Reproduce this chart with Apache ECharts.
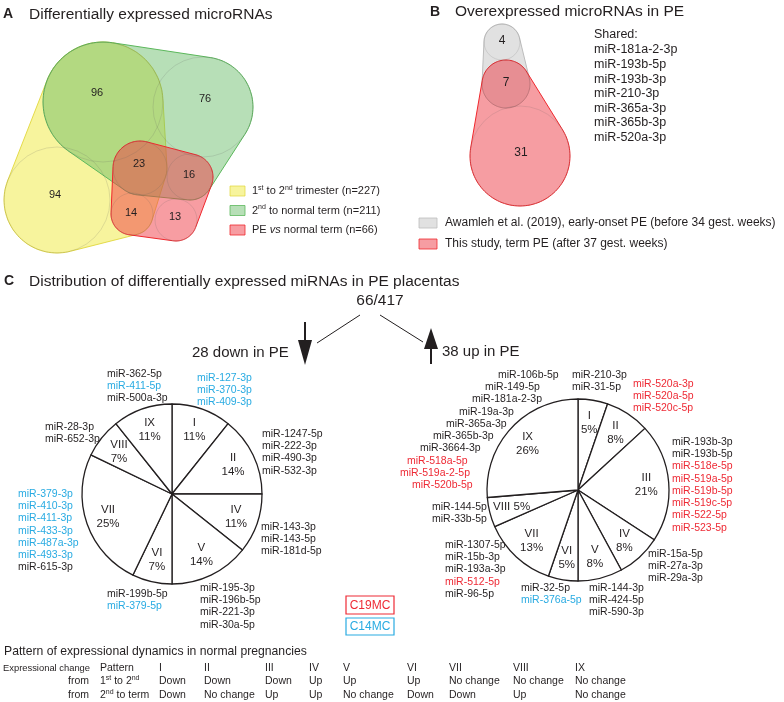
<!DOCTYPE html>
<html><head><meta charset="utf-8">
<script src="https://cdn.jsdelivr.net/npm/echarts@6/dist/echarts.min.js"></script>
<style>html,body{margin:0;padding:0;background:#fff}#c{width:784px;height:702px}</style>
</head><body><div id="c"></div>
<script>
// ---------------- DATA ----------------
// Panel A: Venn of differentially expressed microRNAs
const vennASetNames = ['1st to 2nd trimester', '2nd to normal term', 'PE vs normal term'];
const vennASetSizes = [227, 211, 66];
const vennARegionCounts = [94, 96, 76, 23, 16, 14, 13];
const vennARegionSets = [[0], [0, 1], [1], [0, 1, 2], [1, 2], [0, 2], [2]];
// Panel B: overexpressed microRNAs in PE
const vennBSetNames = ['Awamleh et al. (2019), early-onset PE (before 34 gest. weeks)', 'This study, term PE (after 37 gest. weeks)'];
const vennBRegionCounts = [4, 7, 31];
const vennBRegionSets = [[0], [0, 1], [1]];
const sharedMirnas = ['miR-181a-2-3p', 'miR-193b-5p', 'miR-193b-3p', 'miR-210-3p', 'miR-365a-3p', 'miR-365b-3p', 'miR-520a-3p'];
// Panel C: pies
const totalDE = 66, totalAll = 417;
const downSlices = ['I', 'II', 'IV', 'V', 'VI', 'VII', 'VIII', 'IX'];
const downCounts = [3, 4, 3, 4, 2, 7, 2, 3];
const upSlices = ['I', 'II', 'III', 'IV', 'V', 'VI', 'VII', 'VIII', 'IX'];
const upCounts = [2, 3, 8, 3, 3, 2, 5, 2, 10];
const downMirnas = {
  I: ['miR-127-3p', 'miR-370-3p', 'miR-409-3p'],
  II: ['miR-1247-5p', 'miR-222-3p', 'miR-490-3p', 'miR-532-3p'],
  IV: ['miR-143-3p', 'miR-143-5p', 'miR-181d-5p'],
  V: ['miR-195-3p', 'miR-196b-5p', 'miR-221-3p', 'miR-30a-5p'],
  VI: ['miR-199b-5p', 'miR-379-5p'],
  VII: ['miR-379-3p', 'miR-410-3p', 'miR-411-3p', 'miR-433-3p', 'miR-487a-3p', 'miR-493-3p', 'miR-615-3p'],
  VIII: ['miR-28-3p', 'miR-652-3p'],
  IX: ['miR-362-5p', 'miR-411-5p', 'miR-500a-3p']
};
const upMirnas = {
  I: ['miR-210-3p', 'miR-31-5p'],
  II: ['miR-520a-3p', 'miR-520a-5p', 'miR-520c-5p'],
  III: ['miR-193b-3p', 'miR-193b-5p', 'miR-518e-5p', 'miR-519a-5p', 'miR-519b-5p', 'miR-519c-5p', 'miR-522-5p', 'miR-523-5p'],
  IV: ['miR-15a-5p', 'miR-27a-3p', 'miR-29a-3p'],
  V: ['miR-144-3p', 'miR-424-5p', 'miR-590-3p'],
  VI: ['miR-32-5p', 'miR-376a-5p'],
  VII: ['miR-1307-5p', 'miR-15b-3p', 'miR-193a-3p', 'miR-512-5p', 'miR-96-5p'],
  VIII: ['miR-144-5p', 'miR-33b-5p'],
  IX: ['miR-106b-5p', 'miR-149-5p', 'miR-181a-2-3p', 'miR-19a-3p', 'miR-365a-3p', 'miR-365b-3p', 'miR-3664-3p', 'miR-518a-5p', 'miR-519a-2-5p', 'miR-520b-5p']
};
const c19mc = ['miR-520a-3p', 'miR-520a-5p', 'miR-520c-5p', 'miR-518e-5p', 'miR-519a-5p', 'miR-519b-5p', 'miR-519c-5p', 'miR-522-5p', 'miR-523-5p', 'miR-518a-5p', 'miR-519a-2-5p', 'miR-520b-5p', 'miR-512-5p'];
const c14mc = ['miR-127-3p', 'miR-370-3p', 'miR-409-3p', 'miR-411-5p', 'miR-379-3p', 'miR-410-3p', 'miR-411-3p', 'miR-433-3p', 'miR-487a-3p', 'miR-493-3p', 'miR-379-5p', 'miR-376a-5p'];
// Table
const patternNames = ['I', 'II', 'III', 'IV', 'V', 'VI', 'VII', 'VIII', 'IX'];
const change1to2 = ['Down', 'Down', 'Down', 'Up', 'Up', 'Up', 'No change', 'No change', 'No change'];
const change2toTerm = ['Down', 'No change', 'Up', 'Up', 'No change', 'Down', 'Down', 'Up', 'No change'];

// ---------------- LAYOUT / STYLE ----------------
const FONT = '"Liberation Sans", Arial, Helvetica, sans-serif';
const BLK = '#231f20', BLUE = '#29abe2', RED = '#ee2a35';
const layoutA = [
  {x: 57, y: 200, r: 53, lx: 55, ly: 195},
  {x: 103, y: 102, r: 60, lx: 97, ly: 93},
  {x: 203, y: 107, r: 50, lx: 205, ly: 99},
  {x: 140, y: 168, r: 27, lx: 139, ly: 164},
  {x: 190, y: 177, r: 23, lx: 189, ly: 175},
  {x: 132, y: 214, r: 21, lx: 131, ly: 213},
  {x: 176, y: 220, r: 21, lx: 175, ly: 217}
];
const styleA = [
  {fill: 'rgba(240,234,60,0.5)', stroke: 'rgba(225,215,60,0.9)'},
  {fill: 'rgba(95,185,95,0.45)', stroke: '#5cb85c'},
  {fill: 'rgba(240,60,70,0.5)', stroke: '#f0282d'}
];
const layoutB = [
  {x: 502, y: 42, r: 18, lx: 502, ly: 41},
  {x: 506, y: 84, r: 24, lx: 506, ly: 83},
  {x: 520, y: 156, r: 50, lx: 521, ly: 153}
];
const styleB = [
  {fill: 'rgba(175,175,175,0.38)', stroke: '#bdbdbd'},
  {fill: 'rgba(238,60,70,0.5)', stroke: '#f0282d'}
];
const downPie = {cx: 172, cy: 494, r: 90};
const upPie = {cx: 578, cy: 490, r: 91};
const downGroupPos = {IX: [107, 374], I: [197, 378], VIII: [45, 427], II: [262, 434], VII: [18, 494], IV: [261, 527], VI: [107, 594], V: [200, 588]};
const upGroupPos = {I: [572, 375], II: [633, 384], III: [672, 442], IV: [648, 554], V: [589, 588], VI: [521, 588], VII: [445, 545], VIII: [432, 507], IX: [498, 375]};
const upIXStagger = [498, 485, 472, 459, 446, 433, 420, 407, 400, 412];
const tableCols = [159, 204, 265, 309, 343, 407, 449, 513, 575];

// ---------------- HELPERS ----------------
function T(x, y, text, o) {
  return {type: 'text', x: x, y: y, silent: true, z: 10,
    style: Object.assign({text: text, fill: BLK, fontSize: 11, fontFamily: FONT, align: 'left', verticalAlign: 'middle'}, o || {})};
}
function hullPts(circles, n) {
  n = n || 120;
  const p = [];
  circles.forEach(c => { for (let k = 0; k < n; k++) { const a = 2 * Math.PI * k / n; p.push([c.x + c.r * Math.cos(a), c.y + c.r * Math.sin(a)]); } });
  p.sort((a, b) => a[0] - b[0] || a[1] - b[1]);
  const cross = (o, a, b) => (a[0] - o[0]) * (b[1] - o[1]) - (a[1] - o[1]) * (b[0] - o[0]);
  const lower = []; for (const q of p) { while (lower.length >= 2 && cross(lower[lower.length - 2], lower[lower.length - 1], q) <= 0) lower.pop(); lower.push(q); }
  const upper = []; for (let i = p.length - 1; i >= 0; i--) { const q = p[i]; while (upper.length >= 2 && cross(upper[upper.length - 2], upper[upper.length - 1], q) <= 0) upper.pop(); upper.push(q); }
  upper.pop(); lower.pop(); return lower.concat(upper);
}
function mirColor(name) { return c19mc.includes(name) ? RED : (c14mc.includes(name) ? BLUE : BLK); }
const SUP = {fontSize: 7, lineHeight: 6, verticalAlign: 'top', fontFamily: FONT, fill: BLK};

const G = [];
// ---- Panel A ----
G.push(T(3, 14, 'A', {fontSize: 14, fontWeight: 'bold'}));
G.push(T(29, 15, 'Differentially expressed microRNAs', {fontSize: 15.5}));
styleA.forEach((st, s) => {
  const circles = layoutA.filter((c, i) => vennARegionSets[i].includes(s));
  G.push({type: 'polygon', silent: true, z: 1 + s, shape: {points: hullPts(circles)}, style: {fill: st.fill, stroke: st.stroke, lineWidth: 1}});
});
layoutA.forEach((c, i) => {
  if (vennARegionSets[i].length > 0) G.push({type: 'circle', silent: true, z: 5, shape: {cx: c.x, cy: c.y, r: c.r}, style: {fill: 'none', stroke: 'rgba(90,90,90,0.22)', lineWidth: 0.8}});
  G.push(T(c.lx, c.ly, String(vennARegionCounts[i]), {align: 'center', fontSize: 11}));
});
const legAy = [191, 210.5, 230];
vennASetNames.forEach((nm, s) => {
  G.push({type: 'rect', silent: true, z: 5, shape: {x: 230, y: legAy[s] - 5, width: 15, height: 10}, style: {fill: styleA[s].fill, stroke: styleA[s].stroke, lineWidth: 0.8}});
  let rich;
  if (s === 0) rich = '{b|1}{s|st}{b| to 2}{s|nd}{b| trimester (n=' + vennASetSizes[s] + ')}';
  else if (s === 1) rich = '{b|2}{s|nd}{b| to normal term (n=' + vennASetSizes[s] + ')}';
  else rich = '{b|PE }{i|vs}{b| normal term (n=' + vennASetSizes[s] + ')}';
  G.push(T(252, legAy[s], rich, {rich: {b: {fontSize: 11, fontFamily: FONT, fill: BLK, lineHeight: 13}, i: {fontSize: 11, fontStyle: 'italic', fontFamily: FONT, fill: BLK, lineHeight: 13}, s: SUP}}));
});
// ---- Panel B ----
G.push(T(430, 12, 'B', {fontSize: 14, fontWeight: 'bold'}));
G.push(T(455, 12, 'Overexpressed microRNAs in PE', {fontSize: 15.5}));
styleB.forEach((st, s) => {
  const circles = layoutB.filter((c, i) => vennBRegionSets[i].includes(s));
  G.push({type: 'polygon', silent: true, z: 1 + s, shape: {points: hullPts(circles)}, style: {fill: st.fill, stroke: st.stroke, lineWidth: 1}});
});
layoutB.forEach((c, i) => {
  G.push({type: 'circle', silent: true, z: 5, shape: {cx: c.x, cy: c.y, r: c.r}, style: {fill: 'none', stroke: 'rgba(90,90,90,0.2)', lineWidth: 0.8}});
  G.push(T(c.lx, c.ly, String(vennBRegionCounts[i]), {align: 'center', fontSize: 12}));
});
G.push(T(594, 35, 'Shared:', {fontSize: 12.5}));
sharedMirnas.forEach((m, i) => G.push(T(594, 50 + i * 14.6, m, {fontSize: 12.5})));
const legBy = [223, 244];
vennBSetNames.forEach((nm, s) => {
  G.push({type: 'rect', silent: true, z: 5, shape: {x: 419, y: legBy[s] - 5, width: 18, height: 10}, style: {fill: styleB[s].fill, stroke: styleB[s].stroke, lineWidth: 0.8}});
  G.push(T(445, legBy[s], nm, {fontSize: 12}));
});
// ---- Panel C ----
G.push(T(4, 281, 'C', {fontSize: 14, fontWeight: 'bold'}));
G.push(T(29, 282, 'Distribution of differentially expressed miRNAs in PE placentas', {fontSize: 15.5}));
G.push(T(380, 301, totalDE + '/' + totalAll, {fontSize: 15.5, align: 'center'}));
G.push({type: 'line', silent: true, shape: {x1: 360, y1: 315, x2: 317, y2: 343}, style: {stroke: BLK, lineWidth: 1}});
G.push({type: 'line', silent: true, shape: {x1: 380, y1: 315, x2: 423, y2: 342}, style: {stroke: BLK, lineWidth: 1}});
G.push({type: 'line', silent: true, shape: {x1: 305, y1: 322, x2: 305, y2: 345}, style: {stroke: BLK, lineWidth: 2}});
G.push({type: 'polygon', silent: true, shape: {points: [[298, 340], [312, 340], [305, 365]]}, style: {fill: BLK}});
G.push({type: 'line', silent: true, shape: {x1: 431, y1: 345, x2: 431, y2: 364}, style: {stroke: BLK, lineWidth: 2}});
G.push({type: 'polygon', silent: true, shape: {points: [[424, 349], [438, 349], [431, 328]]}, style: {fill: BLK}});
G.push(T(192, 353, downCounts.reduce((a, b) => a + b, 0) + ' down in PE', {fontSize: 15}));
G.push(T(442, 352, upCounts.reduce((a, b) => a + b, 0) + ' up in PE', {fontSize: 15}));
const LG = 12.25;
Object.keys(downMirnas).forEach(k => {
  const [x, y] = downGroupPos[k];
  downMirnas[k].forEach((m, i) => G.push(T(x, y + i * LG, m, {fontSize: 10.5, fill: mirColor(m)})));
});
Object.keys(upMirnas).forEach(k => {
  const [x, y] = upGroupPos[k];
  upMirnas[k].forEach((m, i) => G.push(T(k === 'IX' ? upIXStagger[i] : x, y + i * LG, m, {fontSize: 10.5, fill: mirColor(m)})));
});
// cluster legend
G.push({type: 'rect', silent: true, shape: {x: 346, y: 596, width: 48, height: 18}, style: {fill: 'none', stroke: RED, lineWidth: 1.2}});
G.push(T(370, 605.5, 'C19MC', {fontSize: 12, fill: RED, align: 'center'}));
G.push({type: 'rect', silent: true, shape: {x: 346, y: 618, width: 48, height: 17}, style: {fill: 'none', stroke: BLUE, lineWidth: 1.2}});
G.push(T(370, 627, 'C14MC', {fontSize: 12, fill: BLUE, align: 'center'}));
// ---- Table ----
G.push(T(4, 652, 'Pattern of expressional dynamics in normal pregnancies', {fontSize: 12.2}));
const TF = 10.5;
G.push(T(3, 668, 'Expressional change', {fontSize: 9.4}));
G.push(T(100, 668, 'Pattern', {fontSize: TF}));
G.push(T(68, 681, 'from', {fontSize: TF}));
G.push(T(68, 695, 'from', {fontSize: TF}));
const supT = {b: {fontSize: TF, fontFamily: FONT, fill: BLK, lineHeight: 12}, s: SUP};
G.push(T(100, 681, '{b|1}{s|st}{b| to 2}{s|nd}', {rich: supT}));
G.push(T(100, 695, '{b|2}{s|nd}{b| to term}', {rich: supT}));
patternNames.forEach((p, i) => {
  G.push(T(tableCols[i], 668, p, {fontSize: TF}));
  G.push(T(tableCols[i], 681, change1to2[i], {fontSize: TF}));
  G.push(T(tableCols[i], 695, change2toTerm[i], {fontSize: TF}));
});

// ---------------- PIES ----------------
function pieSeries(names, counts, geo, inline) {
  const total = counts.reduce((a, b) => a + b, 0);
  const data = names.map((n, i) => ({name: n, value: counts[i]}));
  return [{
    type: 'pie', center: [geo.cx, geo.cy], radius: [0, geo.r], startAngle: 90, clockwise: true,
    silent: true, animation: false, label: {show: false}, labelLine: {show: false},
    itemStyle: {color: '#ffffff', borderColor: BLK, borderWidth: 1.3}, emphasis: {disabled: true}, data: data
  }, {
    type: 'pie', center: [geo.cx, geo.cy], radius: [geo.r * 0.44, geo.r], startAngle: 90, clockwise: true,
    silent: true, animation: false, avoidLabelOverlap: false, z: 3,
    itemStyle: {color: 'rgba(0,0,0,0)', borderWidth: 0}, emphasis: {disabled: true}, labelLine: {show: false},
    label: {show: true, position: 'inside', color: BLK, fontSize: 11.5, fontFamily: FONT, lineHeight: 14,
      formatter: p => p.name + (inline.includes(p.name) ? ' ' : '\n') + Math.round(p.value / total * 100) + '%'},
    data: data
  }];
}

const chart = echarts.init(document.getElementById('c'), null, {renderer: 'canvas'});
chart.setOption({
  animation: false,
  backgroundColor: '#ffffff',
  graphic: {elements: G},
  series: [].concat(pieSeries(downSlices, downCounts, downPie, []), pieSeries(upSlices, upCounts, upPie, ['VIII']))
});
</script>
</body></html>
